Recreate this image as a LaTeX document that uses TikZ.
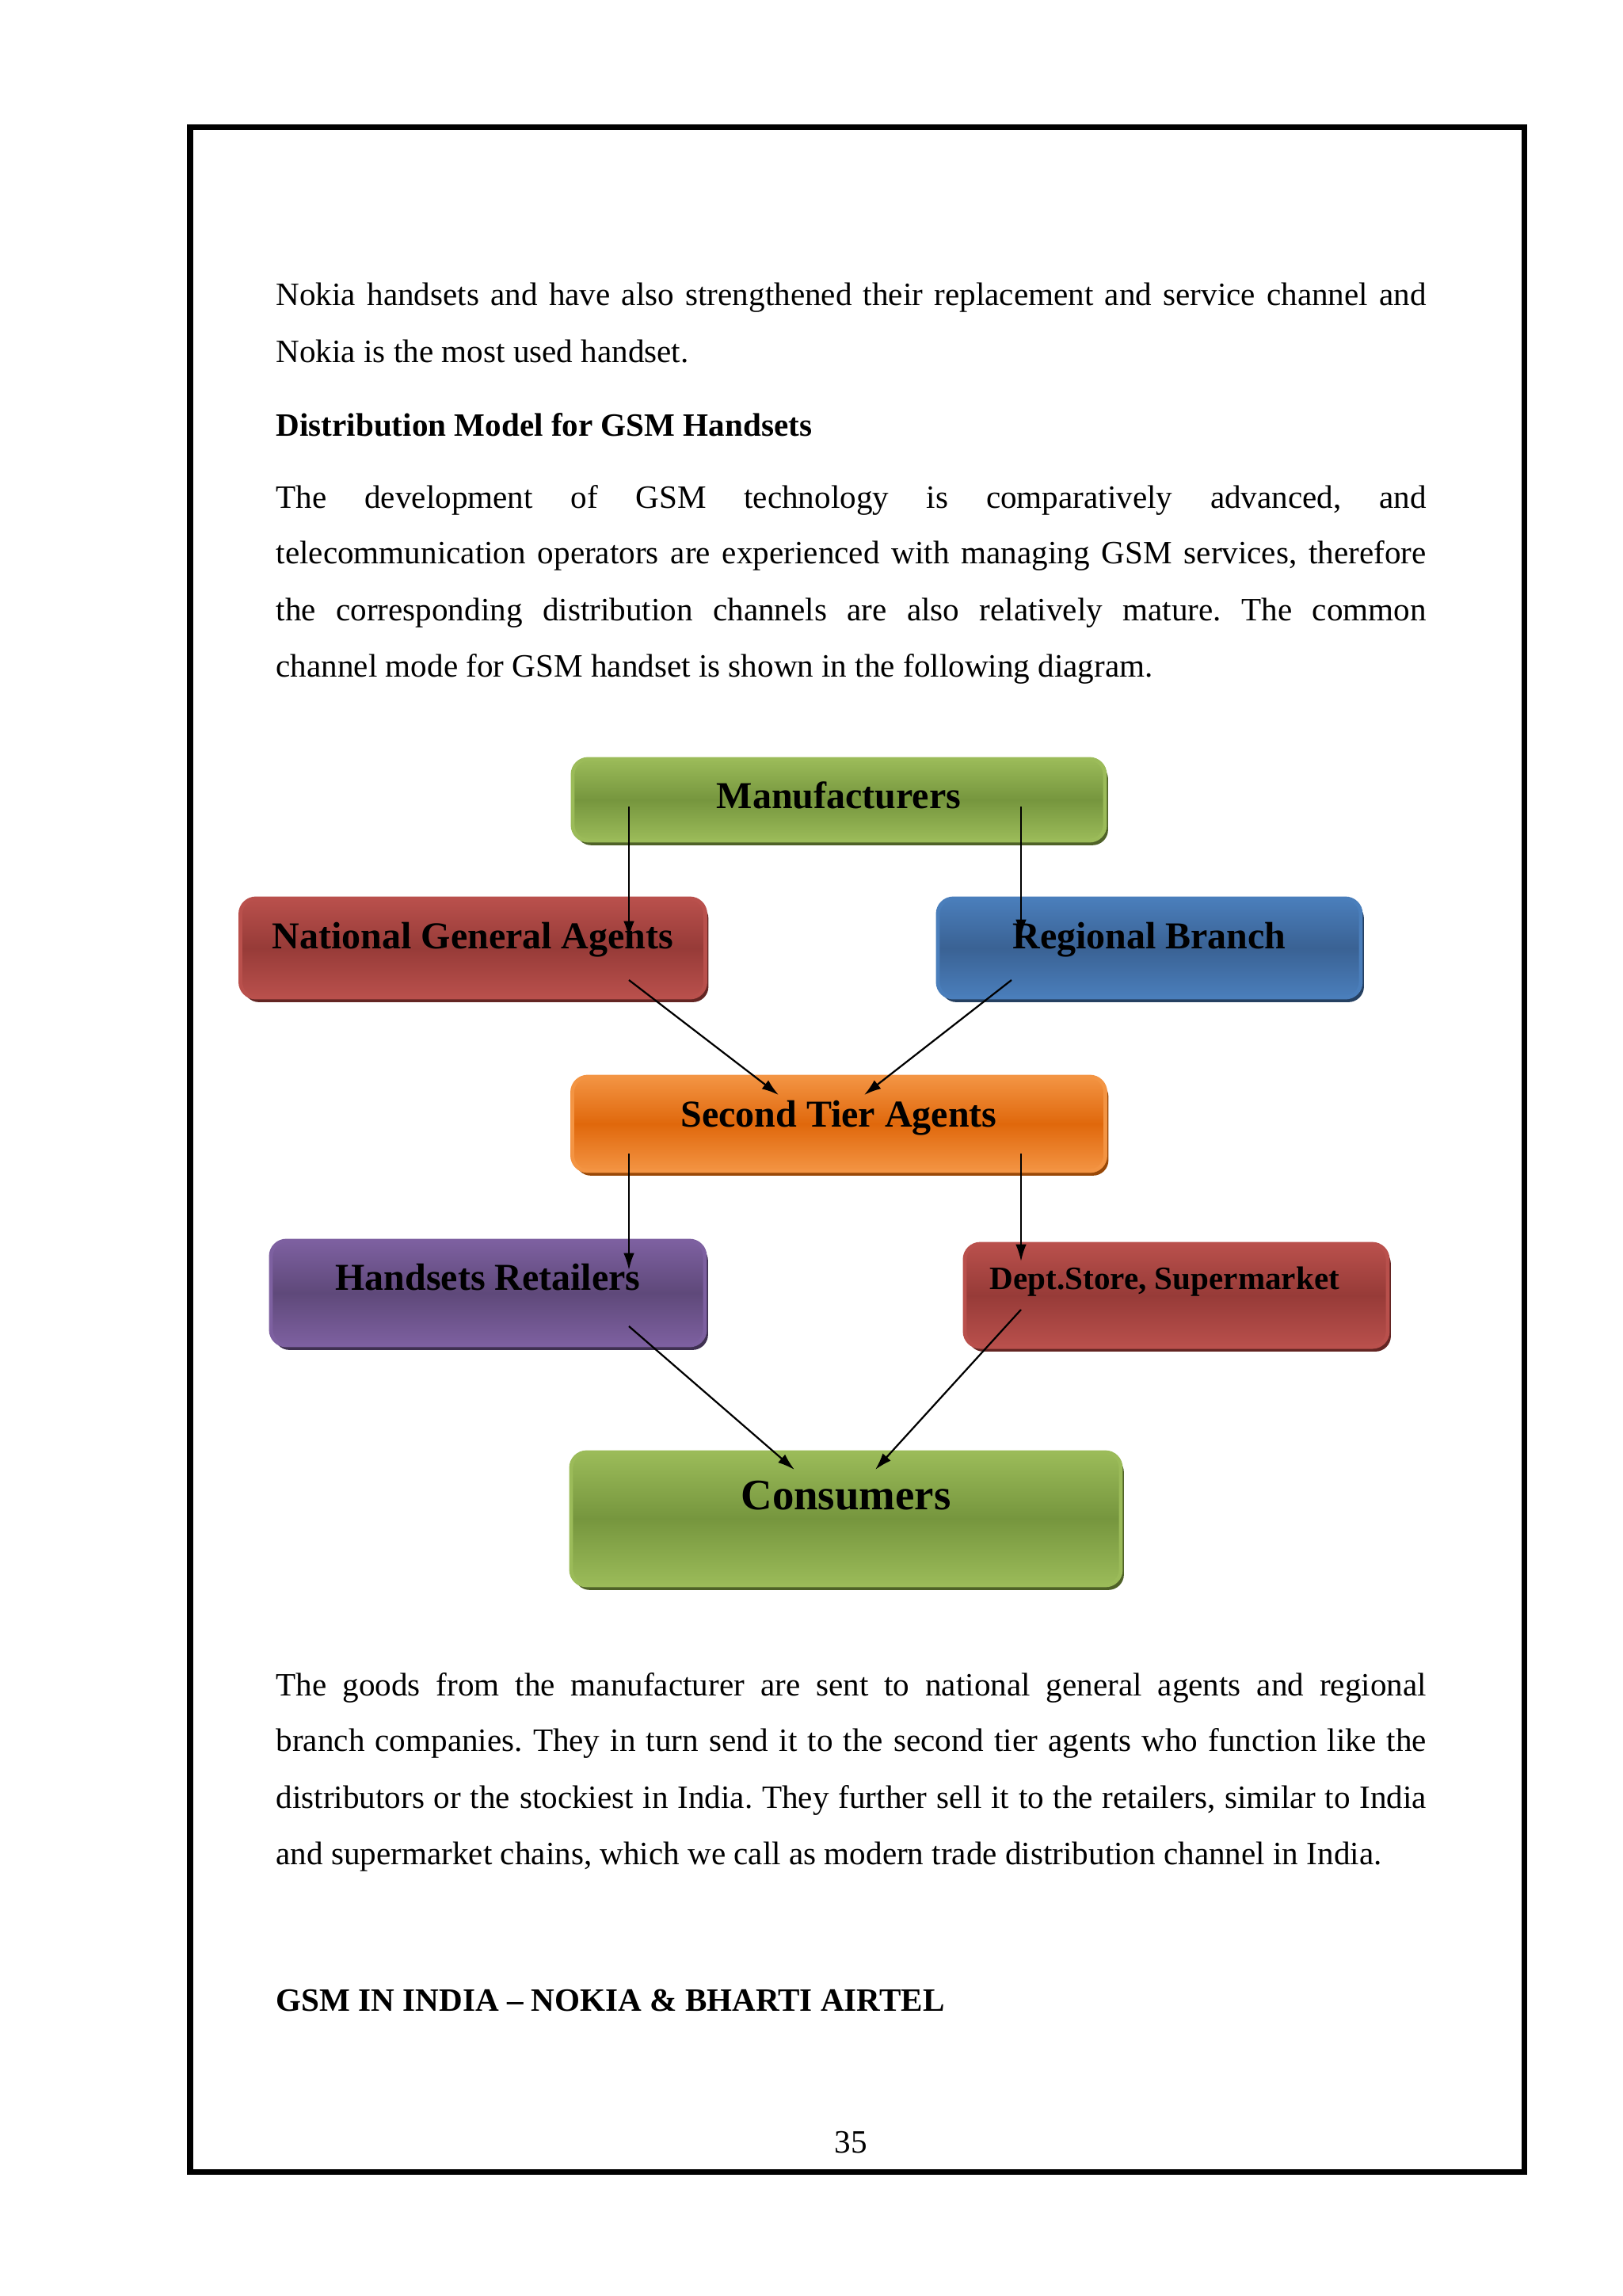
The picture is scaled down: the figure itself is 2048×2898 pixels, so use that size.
\documentclass[tikz,border=0pt]{standalone}
\usepackage{fontspec}
\setmainfont{Liberation Serif}
\usepackage{xcolor}
\usepackage{tikz}
\usetikzlibrary{arrows.meta,positioning,shadows}
\definecolor{green1}{HTML}{9BBB59}
\definecolor{green2}{HTML}{76963E}
\definecolor{green3}{HTML}{4F6228}
\definecolor{red1}{HTML}{B9504C}
\definecolor{red2}{HTML}{973B38}
\definecolor{red3}{HTML}{632523}
\definecolor{blue1}{HTML}{4A7EBB}
\definecolor{blue2}{HTML}{3A6294}
\definecolor{blue3}{HTML}{254061}
\definecolor{orange1}{HTML}{F39443}
\definecolor{orange2}{HTML}{E0680C}
\definecolor{orange3}{HTML}{984807}
\definecolor{purple1}{HTML}{7D60A0}
\definecolor{purple2}{HTML}{5F497A}
\definecolor{purple3}{HTML}{3F3151}
\newcommand\jline[1]{\makebox[148.89mm][s]{#1}}
\frenchspacing

\begin{document}
\begin{tikzpicture}[x=0.10254mm,y=-0.10254mm,
  box/.style={rounded corners=2mm, inner sep=0pt, anchor=base, line width=0.5mm,
    font=\bfseries\fontsize{14}{16}\selectfont},
  boxcol/.style n args={3}{top color=#1, bottom color=#1, middle color=#2, draw=#1,
    drop shadow={shadow xshift=0.4mm, shadow yshift=-0.6mm, fill=#3, opacity=1}},
  boxsize/.style n args={3}{minimum width=#1mm, text height=#2mm, text depth=#3mm},
  flow/.style={line width=0.65pt, -{Latex[length=2.2mm,width=1.4mm]}},
  txt/.style={anchor=base west, inner sep=0pt, font=\fontsize{12}{14}\selectfont},
  head/.style={txt, font=\bfseries\fontsize{12}{14}\selectfont}]
  \useasboundingbox (0,0) rectangle (2048,2898);
  \draw[line width=0.72mm] (240,160) rectangle (1924,2741);

  % text above the diagram
  \node[txt] (t1) at (348,385) {\jline{Nokia handsets and have also strengthened their replacement and service channel and}};
  \node[txt] (t2) at (348,457) {Nokia is the most used handset.};
  \node[head] (t3) at (348,550) {Distribution Model for GSM Handsets};
  \node[txt] (t4) at (348,641) {\jline{The development of GSM technology is comparatively advanced, and}};
  \node[txt] (t5) at (348,711) {\jline{telecommunication operators are experienced with managing GSM services, therefore}};
  \node[txt] (t6) at (348,783) {\jline{the corresponding distribution channels are also relatively mature. The common}};
  \node[txt] (t7) at (348,854) {channel mode for GSM handset is shown in the following diagram.};

  % boxes
  \node[box, boxcol={green1}{green2}{green3}, boxsize={68.91}{6.36}{4.20}] (manuf) at (1059,1020) {Manufacturers};
  \node[box, boxcol={red1}{red2}{red3}, boxsize={60.19}{6.46}{6.36}] (nga) at (597,1197) {National General Agents};
  \node[box, boxcol={blue1}{blue2}{blue3}, boxsize={54.76}{6.46}{6.36}] (rb) at (1451,1197) {Regional Branch};
  \node[box, boxcol={orange1}{orange2}{orange3}, boxsize={69.01}{6.46}{5.74}] (sta) at (1059,1422) {Second Tier Agents};
  \node[box, boxcol={purple1}{purple2}{purple3}, boxsize={56.19}{6.36}{7.18}] (hr) at (616,1628) {Handsets Retailers};
  \node[box, boxcol={red1}{red2}{red3}, boxsize={54.76}{5.84}{7.49},
    font=\bfseries\fontsize{12}{14}\selectfont] (ds) at (1485,1627) {\hspace{-3mm}Dept.Store, Supermarket};
  \node[box, boxcol={green1}{green2}{green3}, boxsize={71.16}{7.38}{9.84},
    font=\bfseries\fontsize{16}{18}\selectfont] (cons) at (1068,1905) {Consumers};

  % arrow ends
  \coordinate (m1) at (794,1018);
  \coordinate (m2) at (1289,1018);
  \coordinate (n1) at (794,1184);
  \coordinate (r1) at (1289,1182);
  \coordinate (n2) at (794,1237);
  \coordinate (r2) at (1277,1237);
  \coordinate (s1) at (983,1382);
  \coordinate (s2) at (1091,1382);
  \coordinate (s3) at (794,1456);
  \coordinate (s4) at (1289,1456);
  \coordinate (h1) at (794,1603);
  \coordinate (d1) at (1289,1592);
  \coordinate (h2) at (794,1674);
  \coordinate (d2) at (1289,1653);
  \coordinate (c1) at (1003,1855);
  \coordinate (c2) at (1105,1855);

  \draw[flow] (m1) -- (n1);
  \draw[flow] (m2) -- (r1);
  \draw[flow] (n2) -- (s1);
  \draw[flow] (r2) -- (s2);
  \draw[flow] (s3) -- (h1);
  \draw[flow] (s4) -- (d1);
  \draw[flow] (h2) -- (c1);
  \draw[flow] (d2) -- (c2);

  % text below the diagram
  \node[txt] (b1) at (348,2140) {\jline{The goods from the manufacturer are sent to national general agents and regional}};
  \node[txt] (b2) at (348,2210) {\jline{branch companies. They in turn send it to the second tier agents who function like the}};
  \node[txt] (b3) at (348,2282) {\jline{distributors or the stockiest in India. They further sell it to the retailers, similar to India}};
  \node[txt] (b4) at (348,2353) {and supermarket chains, which we call as modern trade distribution channel in India.};
  \node[head] (b5) at (348,2538) {GSM IN INDIA -- NOKIA \& BHARTI AIRTEL};
  \node[txt, anchor=base] (pg) at (1074,2717) {35};
\end{tikzpicture}
\end{document}
